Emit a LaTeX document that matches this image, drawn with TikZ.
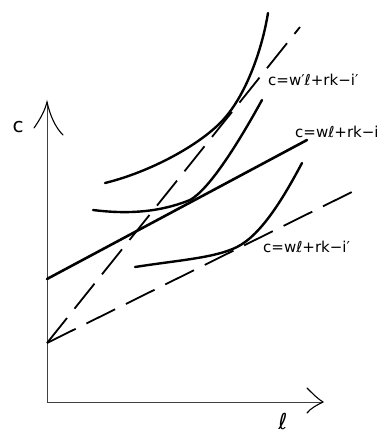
\documentclass[tikz,border=0pt]{standalone}
\usepackage{fontspec}
\setmainfont{DejaVu Sans}
\usepackage{tikz}
\begin{document}
\begin{tikzpicture}[x=1pt,y=-1pt,
    indiff/.style={line width=2.4pt,line cap=round},
    budget/.style={line width=2.6pt,line cap=round},
    shifted/.style={line width=1.8pt,dash pattern=on 32pt off 12pt},
    axisline/.style={line width=0.9pt,black!75},
    tiplines/.style={line width=1.1pt,line cap=round},
    eqlabel/.style={anchor=west,inner sep=0pt,font=\fontsize{15}{17}\selectfont}]
    \useasboundingbox (0,0) rectangle (383,434);
    % axes
    \coordinate (O) at (47,402);
    \coordinate (ctip) at (47,102);
    \coordinate (ltip) at (323,402);
    \draw[axisline] (O) -- (ctip);
    \draw[axisline] (O) -- (ltip);
    \draw[tiplines] (34,128) .. controls (41,118) and (45,110) .. (ctip)
        .. controls (50,115) and (55,127) .. (63,135);
    \draw[tiplines] (307,388) .. controls (313,394) and (318,399) .. (ltip)
        .. controls (317,405) and (311,408) .. (307,413);
    \node[font=\fontsize{20}{22}\selectfont] (clab) at (18,127) {c};
    \node[font=\fontsize{22}{24}\selectfont] (llab) at (283,421) {ℓ};
    % budget lines
    \coordinate (I) at (47,343);
    \draw[budget] (47,279) -- (307,140);
    \draw[shifted] (I) -- (362,187);
    \draw[shifted] (I) -- (300,27);
    % indifference curves
    \draw[indiff] (105,183) .. controls (150,172) and (200,145) .. (223,120)
        .. controls (246,95) and (262,50) .. (268,13);
    \draw[indiff] (93,210) .. controls (140,216) and (170,208) .. (190,200)
        .. controls (210,189) and (240,140) .. (262,100);
    \draw[indiff] (135,267) .. controls (180,260) and (215,257.9) .. (237,247)
        .. controls (262,234.6) and (285,195) .. (302,163);
    % labels
    \node[eqlabel] (eqone) at (268,80) {c=w′ℓ+rk−i′};
    \node[eqlabel] (eqtwo) at (295,132) {c=wℓ+rk−i};
    \node[eqlabel] (eqthree) at (263,247) {c=wℓ+rk−i′};
\end{tikzpicture}
\end{document}
